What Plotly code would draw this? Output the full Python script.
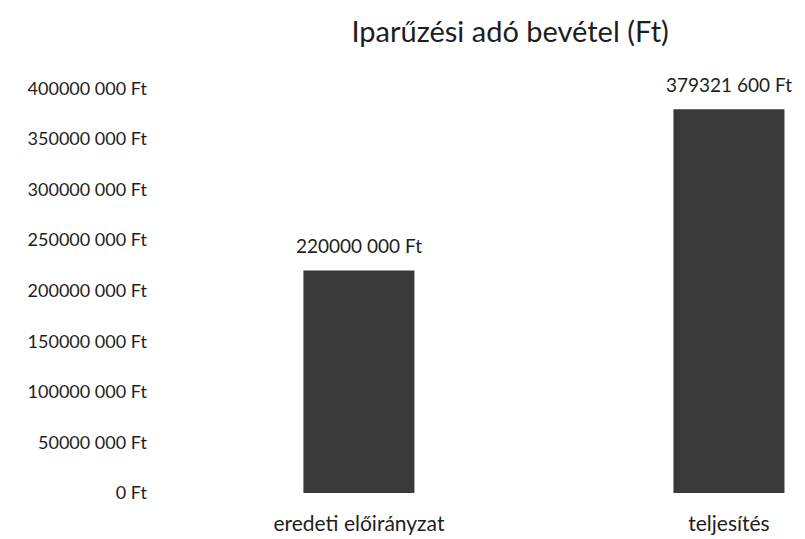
import plotly.graph_objects as go

categories = ["eredeti előirányzat", "teljesítés"]
values = [220000000, 379321600]
tick_values = [0, 50000000, 100000000, 150000000, 200000000, 250000000, 300000000, 350000000, 400000000]


def fmt_ft(v):
    v = int(v)
    if v == 0:
        return "0 Ft"
    return f"{v // 1000} {v % 1000:03d} Ft"


FONT = "Lato, 'Open Sans', sans-serif"
TXT = "#1e1e1e"
positions = [0, 1]

fig = go.Figure(
    go.Bar(
        x=positions,
        y=values,
        width=0.30,
        marker=dict(color="#3a3a3a", line=dict(width=0)),
        hoverinfo="x+y",
    )
)

for xp, v in zip(positions, values):
    fig.add_annotation(
        x=xp,
        y=v,
        text=fmt_ft(v),
        showarrow=False,
        xanchor="center",
        yanchor="middle",
        yshift=25,
        font=dict(family=FONT, size=19, color=TXT),
    )

fig.update_layout(
    width=797,
    height=531,
    paper_bgcolor="white",
    plot_bgcolor="white",
    margin=dict(l=140, r=5, t=60, b=46),
    title=dict(
        text="Iparűzési adó bevétel (Ft)",
        x=0.63,
        xanchor="center",
        y=0.955,
        yanchor="middle",
        font=dict(family=FONT, size=29, color=TXT),
    ),
    showlegend=False,
    xaxis=dict(
        range=[-0.570, 1.192],
        tickvals=positions,
        ticktext=categories,
        showgrid=False,
        zeroline=False,
        showline=False,
        ticks="",
        automargin=False,
        ticklabelstandoff=16,
        tickfont=dict(family=FONT, size=21, color=TXT),
    ),
    yaxis=dict(
        range=[0, 420000000],
        tickvals=tick_values,
        ticktext=[fmt_ft(v) for v in tick_values],
        showgrid=False,
        zeroline=False,
        showline=False,
        ticks="",
        automargin=False,
        tickfont=dict(family=FONT, size=18, color=TXT),
    ),
)

fig.write_html("out.html")
